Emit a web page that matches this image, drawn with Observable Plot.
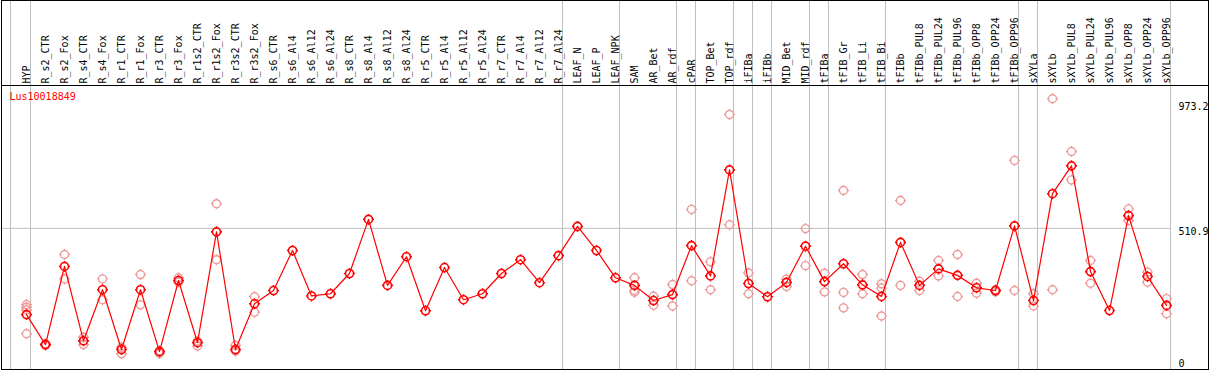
<!DOCTYPE html>
<html>
<head>
<meta charset="utf-8">
<script src="https://cdn.jsdelivr.net/npm/d3@7"></script>
<script src="https://cdn.jsdelivr.net/npm/@observablehq/plot@0.6"></script>
<style>
  html, body { margin: 0; padding: 0; background: #fff; }
  #chart svg { display: block; }
</style>
</head>
<body>
<div id="chart"></div>
<script>
// ---- data ----
const geneId = "Lus10018849";

const categories = ["HYP","R_s2_CTR","R_s2_Fox","R_s4_CTR","R_s4_Fox","R_r1_CTR","R_r1_Fox","R_r3_CTR","R_r3_Fox",
  "R_r1s2_CTR","R_r1s2_Fox","R_r3s2_CTR","R_r3s2_Fox","R_s6_CTR","R_s6_Al4","R_s6_Al12","R_s6_Al24",
  "R_s8_CTR","R_s8_Al4","R_s8_Al12","R_s8_Al24","R_r5_CTR","R_r5_Al4","R_r5_Al12","R_r5_Al24",
  "R_r7_CTR","R_r7_Al4","R_r7_Al12","R_r7_Al24","LEAF_N","LEAF_P","LEAF_NPK","SAM","AR_Bet","AR_rdf",
  "cPAR","TOP_Bet","TOP_rdf","iFIBa","iFIBb","MID_Bet","MID_rdf","tFIBa","tFIB_Gr","tFIB_Li","tFIB_Bi",
  "tFIBb","tFIBb_PUL8","tFIBb_PUL24","tFIBb_PUL96","tFIBb_OPP8","tFIBb_OPP24","tFIBb_OPP96",
  "sXYLa","sXYLb","sXYLb_PUL8","sXYLb_PUL24","sXYLb_PUL96","sXYLb_OPP8","sXYLb_OPP24","sXYLb_OPP96"];

const means = [192, 81, 370, 95, 284, 63, 284, 55, 318, 88, 498, 63, 232, 281, 429, 261, 269,
  344, 544, 300, 406, 206, 366, 247, 269, 344, 395, 310, 410, 518, 429, 328, 300, 244, 266,
  447, 335, 727, 307, 258, 311, 445, 314, 380, 302, 259, 459, 300, 361, 337, 291, 281, 520,
  244, 639, 742, 351, 207, 558, 333, 226];

const replicates = [
  [229, 219, 210, 121], [84, 78], [414, 324], [108, 81], [324, 247], [71, 47], [340, 228], [58, 48],
  [328, 312], [94, 76], [602, 395], [78, 57], [258, 201],
  [], [], [], [], [], [], [], [], [], [], [], [], [], [], [], [], [], [], [],
  [328, 281, 275], [260, 227], [303, 224], [581, 317], [387, 284], [932, 524], [346, 269], [],
  [323, 296], [510, 373], [345, 276], [651, 274, 217], [340, 269], [306, 290, 187],
  [614, 300], [315, 281], [392, 335], [414, 259], [308, 271], [284, 276], [762, 281],
  [269, 224], [990, 284], [795, 690], [392, 308], [], [583, 540], [349, 312], [251, 195]
];

// last category of each group (separator lines are drawn after them)
const groupEnds = ["HYP","R_r7_Al24","LEAF_NPK","AR_rdf","cPAR","TOP_rdf","iFIBa","iFIBb",
  "MID_rdf","tFIBa","tFIB_Bi","tFIBb_OPP96","sXYLa","sXYLb_OPP96"];
const firstCategory = ["HYP"];

const gridValues = [510.9];
const topTicks = [973.2, 510.9];
const bottomTicks = [0];

// ---- derived tables ----
const meanRows = means.map((v, i) => ({cat: categories[i], v}));
const repRows = replicates.flatMap((arr, i) => arr.map(v => ({cat: categories[i], v})));

// circle with four small ticks
const tickedCircle = {
  draw(ctx, size) {
    const r = Math.sqrt(size / Math.PI);
    const t = 1.5;
    ctx.moveTo(r, 0);
    ctx.arc(0, 0, r, 0, 2 * Math.PI);
    ctx.moveTo(0, -r); ctx.lineTo(0, -r - t);
    ctx.moveTo(0, r); ctx.lineTo(0, r + t);
    ctx.moveTo(-r, 0); ctx.lineTo(-r - t, 0);
    ctx.moveTo(r, 0); ctx.lineTo(r + t, 0);
  }
};

const font = "'DejaVu Sans Mono', monospace";

const chart = Plot.plot({
  width: 1209,
  height: 370,
  marginTop: 85,
  marginBottom: 1,
  marginLeft: 1,
  marginRight: 1,
  style: {fontFamily: font, fontSize: "10px", background: "#fff", overflow: "visible"},
  x: {type: "point", domain: categories, range: [26, 1166], padding: 0, axis: null, label: null},
  y: {domain: [-11, 1039], axis: null, label: null},
  marks: [
    // horizontal gridline
    Plot.ruleY(gridValues, {y: d => d, stroke: "#c0c0c0", strokeWidth: 1, insetRight: 37}),
    // group separators
    Plot.ruleX(groupEnds, {x: d => d, dx: 4, stroke: "#c0c0c0", strokeWidth: 1, insetTop: -85}),
    Plot.ruleX(firstCategory, {x: d => d, dx: -16, stroke: "#c0c0c0", strokeWidth: 1, insetTop: -85}),
    // category labels
    Plot.axisX({anchor: "top", tickRotate: -90, tickSize: 0, tickPadding: 2, fontSize: 10,
      fontFamily: font, fill: "#000", label: null}),
    // replicate points
    Plot.dot(repRows, {x: "cat", y: "v", r: 4, symbol: tickedCircle, fill: "none",
      stroke: "#ee9a9a", strokeWidth: 1.4}),
    // mean line
    Plot.line(meanRows, {x: "cat", y: "v", stroke: "#ff0000", strokeWidth: 1.2}),
    Plot.dot(meanRows, {x: "cat", y: "v", r: 4, symbol: tickedCircle, fill: "none",
      stroke: "#ff0000", strokeWidth: 1.6}),
    // value labels on the right
    Plot.text(topTicks, {y: d => d, text: d => String(d), frameAnchor: "right", dx: -30,
      textAnchor: "start", lineAnchor: "top", fill: "#000", fontSize: 10}),
    Plot.text(bottomTicks, {y: d => d, text: d => String(d), frameAnchor: "right", dx: -30,
      textAnchor: "start", lineAnchor: "bottom", fill: "#000", fontSize: 10}),
    // gene id
    Plot.text([geneId], {text: d => d, frameAnchor: "top-left", dx: 8, dy: 7,
      textAnchor: "start", lineAnchor: "top", fill: "#ff0000", fontSize: 10}),
    // frames
    Plot.frame({stroke: "#000", insetTop: -85}),
    Plot.frame({anchor: "top", stroke: "#000"})
  ]
});

document.getElementById("chart").appendChild(chart);
</script>
</body>
</html>
